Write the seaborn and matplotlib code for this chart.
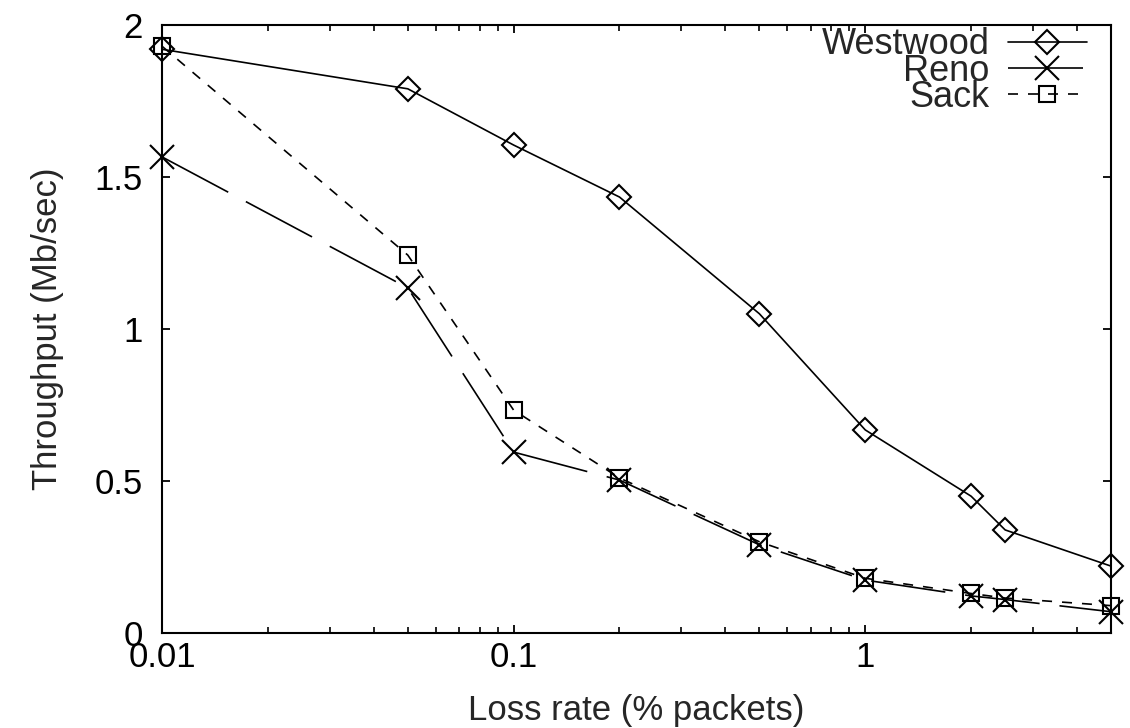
import matplotlib
matplotlib.use("Agg")
import matplotlib.pyplot as plt
import matplotlib.ticker as mticker
import seaborn as sns
import pandas as pd

loss_rates = [0.01, 0.05, 0.1, 0.2, 0.5, 1, 2, 2.5, 5]
westwood = [1.92, 1.79, 1.605, 1.434, 1.05, 0.668, 0.45, 0.339, 0.22]
reno = [1.566, 1.135, 0.595, 0.503, 0.29, 0.174, 0.122, 0.11, 0.07]
sack = [1.93, 1.243, 0.733, 0.51, 0.30, 0.18, 0.13, 0.115, 0.09]
series_names = ["Westwood", "Reno", "Sack"]
x_ticks = [0.01, 0.1, 1]
x_tick_labels = ["0.01", "0.1", "1"]
y_ticks = [0, 0.5, 1, 1.5, 2]
y_tick_labels = ["0", "0.5", "1", "1.5", "2"]

sns.set_style("ticks")
plt.rcParams["font.family"] = ["Liberation Sans", "DejaVu Sans"]

fig = plt.figure(figsize=(11.3, 7.28), dpi=100)
ax = fig.add_axes([0.1434, 0.1305, 0.9832 - 0.1434, 0.9657 - 0.1305])

styles = {
    "Westwood": dict(marker="D", markersize=12, linestyle="-"),
    "Reno": dict(marker="x", markersize=17, linestyle=(0, (45, 12))),
    "Sack": dict(marker="s", markersize=12, linestyle=(0, (6, 6))),
}
data = {"Westwood": westwood, "Reno": reno, "Sack": sack}

for name in series_names:
    df = pd.DataFrame({"x": loss_rates, "y": data[name]})
    st = styles[name]
    sns.lineplot(data=df, x="x", y="y", ax=ax, color="black", linewidth=1.2,
                 marker=st["marker"], markersize=st["markersize"],
                 linestyle=st["linestyle"], fillstyle="none",
                 markeredgecolor="black", markeredgewidth=1.5, label=name,
                 clip_on=False)

ax.set_xscale("log")
ax.set_xlim(0.01, 5)
ax.set_ylim(0, 2)
ax.set_xticks(x_ticks)
ax.set_xticklabels(x_tick_labels)
ax.xaxis.set_minor_locator(mticker.LogLocator(base=10, subs=range(2, 10)))
ax.xaxis.set_minor_formatter(mticker.NullFormatter())
ax.set_yticks(y_ticks)
ax.set_yticklabels(y_tick_labels)

ax.tick_params(axis="both", which="both", direction="in", top=True, right=True,
               labelsize=25, colors="black")
ax.tick_params(axis="x", which="major", length=6, width=1.3, pad=6)
ax.tick_params(axis="y", which="major", length=6, width=1.3, pad=14)
ax.tick_params(axis="both", which="minor", length=4, width=1.2)
for s in ax.spines.values():
    s.set_visible(True)
    s.set_linewidth(1.5)
    s.set_color("black")

ax.set_xlabel("Loss rate (% packets)", fontsize=25, labelpad=14)
ax.set_ylabel("Throughput (Mb/sec)", fontsize=25, labelpad=22)

leg = ax.legend(loc="upper right", frameon=False, markerfirst=False,
                fontsize=26, labelspacing=-0.24, handlelength=2.2,
                handletextpad=0.5, borderaxespad=0.0,
                bbox_to_anchor=(0.99, 1.02))
for t in leg.get_texts():
    t.set_ha("right")

fig.savefig("out.png", dpi=100, facecolor="white")
